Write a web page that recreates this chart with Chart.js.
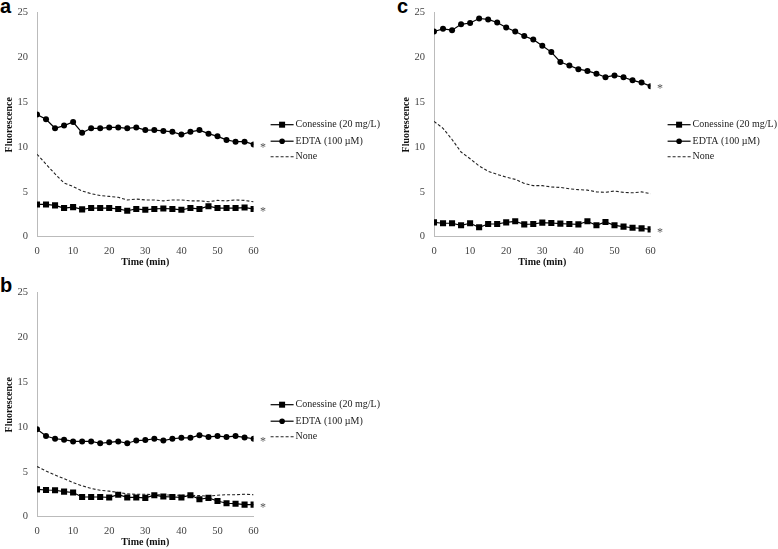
<!DOCTYPE html>
<html><head><meta charset="utf-8">
<script src="https://cdn.jsdelivr.net/npm/chart.js@4.4.0/dist/chart.umd.min.js"></script>
<style>
html,body{margin:0;padding:0;background:#fff;width:778px;height:549px;overflow:hidden;position:relative;}
canvas{position:absolute;}
.lbl{position:absolute;font:bold 20px "Liberation Sans",Arial,sans-serif;color:#000;line-height:20px;}
.pre{position:absolute;left:-1000px;top:0;font-family:"Liberation Serif";}
</style></head><body>
<div class="pre">Fluorescence <b>Time</b></div>
<div class="lbl" style="left:0px;top:-3.6px">a</div>
<div class="lbl" style="left:0px;top:275px">b</div>
<div class="lbl" style="left:397px;top:-4.5px">c</div>
<canvas id="ca" width="390" height="269" style="left:0;top:0"></canvas>
<canvas id="cb" width="390" height="269" style="left:0;top:280px"></canvas>
<canvas id="cc" width="381" height="269" style="left:397px;top:0"></canvas>
<script>
// Time points (min)
const times = [0,2.5,5,7.5,10,12.5,15,17.5,20,22.5,25,27.5,30,32.5,35,37.5,40,42.5,45,47.5,50,52.5,55,57.5,60];
const xTicks = [0,10,20,30,40,50,60];
const yTicks = [0,5,10,15,20,25];
const seriesNames = ['Conessine (20 mg/L)','EDTA (100 \u00b5M)','None'];

// Panel a
const conA  = [3.6,3.6,3.5,3.2,3.3,3.05,3.2,3.2,3.2,3.1,2.9,3.1,3.0,3.1,3.15,3.1,3.0,3.2,3.1,3.4,3.2,3.2,3.2,3.25,3.1];
const edtaA = [13.64,13.1,12.1,12.4,12.8,11.6,12.1,12.1,12.2,12.2,12.1,12.2,11.9,11.9,11.8,11.7,11.4,11.7,11.9,11.5,11.2,10.8,10.6,10.6,10.3];
const noneA = [9.2,8.1,7.0,6.0,5.6,5.1,4.8,4.6,4.5,4.4,4.1,4.2,4.1,4.1,4.0,4.1,4.1,4.0,4.0,3.9,4.05,4.0,4.1,4.05,3.9];

// Panel b
const conB  = [3.05,2.98,2.95,2.8,2.7,2.2,2.2,2.2,2.15,2.45,2.15,2.15,2.1,2.4,2.25,2.2,2.15,2.4,1.95,2.1,1.75,1.5,1.45,1.35,1.35];
const edtaB = [9.75,9.0,8.7,8.6,8.4,8.4,8.4,8.2,8.3,8.4,8.2,8.5,8.55,8.7,8.5,8.7,8.8,8.8,9.1,8.9,9.0,8.9,9.0,8.85,8.7];
const noneB = [5.6,5.1,4.65,4.25,3.8,3.45,3.15,2.95,2.85,2.7,2.55,2.5,2.5,2.45,2.45,2.4,2.4,2.4,2.35,2.3,2.4,2.45,2.45,2.5,2.45];

// Panel c
const conC  = [1.6,1.5,1.5,1.27,1.5,1.05,1.42,1.42,1.6,1.72,1.38,1.42,1.57,1.53,1.46,1.42,1.38,1.72,1.27,1.64,1.27,1.12,1.0,0.93,0.82];
const edtaC = [22.9,23.2,23.05,23.7,23.85,24.35,24.25,23.9,23.35,22.9,22.4,22.0,21.3,20.6,19.5,19.1,18.7,18.5,18.2,17.8,18.0,17.8,17.45,17.2,16.8];
const noneC = [12.87,12.1,10.85,9.45,8.7,7.9,7.3,6.95,6.65,6.4,5.95,5.7,5.7,5.55,5.5,5.35,5.25,5.2,5.0,4.95,5.1,4.95,4.9,5.0,4.8];

const serif = '"Liberation Serif", "Times New Roman", serif';

const extrasPlugin = {
  id: 'extras',
  afterDatasetsDraw(chart) {
    const ctx = chart.ctx, ca = chart.chartArea;
    ctx.save();
    ctx.fillStyle = '#555';
    ctx.font = '12px ' + serif;
    ctx.textAlign = 'left';
    ctx.textBaseline = 'middle';
    [0,1].forEach(di => {
      const meta = chart.getDatasetMeta(di);
      const p = meta.data[meta.data.length - 1];
      ctx.fillText('*', p.x + 6.5, p.y + 3);
    });
    const lx = ca.right + 17;
    const rows = [112, 128.5, 144];
    chart.data.datasets.forEach((ds, i) => {
      const y = ca.top + rows[i];
      ctx.strokeStyle = ds.borderColor;
      ctx.lineWidth = ds.borderWidth;
      ctx.setLineDash(ds.borderDash || []);
      ctx.beginPath(); ctx.moveTo(lx, y); ctx.lineTo(lx + 23, y); ctx.stroke();
      ctx.setLineDash([]);
      ctx.fillStyle = '#000';
      if (ds.pointStyle === 'rect') { ctx.fillRect(lx + 8.5, y - 3, 6, 6); }
      else if (ds.pointRadius > 0) { ctx.beginPath(); ctx.arc(lx + 11.5, y, 2.8, 0, Math.PI * 2); ctx.fill(); }
      ctx.fillStyle = '#222';
      ctx.font = '10px ' + serif;
      ctx.textBaseline = 'middle';
      ctx.fillText(ds.label, lx + 25, y);
    });
    ctx.restore();
  }
};

function pts(arr) { return times.map((t, i) => ({x: t, y: arr[i]})); }

function makeChart(id, con, edta, none, rightPad) {
  return new Chart(document.getElementById(id), {
    type: 'line',
    data: { datasets: [
      { label: seriesNames[0], data: pts(con), borderColor: '#000', backgroundColor: '#000', borderWidth: 1.2,
        pointStyle: 'rect', pointRadius: 4.3, pointBorderWidth: 0, tension: 0 },
      { label: seriesNames[1], data: pts(edta), borderColor: '#000', backgroundColor: '#000', borderWidth: 1.2,
        pointStyle: 'circle', pointRadius: 3, pointBorderWidth: 0, tension: 0 },
      { label: seriesNames[2], data: pts(none), borderColor: '#222', backgroundColor: '#222', borderWidth: 1.1,
        borderDash: [3, 2], pointRadius: 0, tension: 0 }
    ]},
    options: {
      responsive: false, animation: false,
      layout: { padding: { top: 12.7, right: rightPad, left: 0, bottom: 0 } },
      plugins: { legend: { display: false }, tooltip: { enabled: false } },
      scales: {
        x: {
          type: 'linear', min: 0, max: 60,
          afterBuildTicks: s => { s.ticks = xTicks.map(v => ({value: v})); },
          ticks: { color: '#444', font: { family: serif, size: 10.5 }, padding: 4, maxRotation: 0 },
          grid: { display: true, drawOnChartArea: false, tickLength: 4, color: 'rgba(0,0,0,0)' },
          border: { display: true, color: '#bbb', width: 1 },
          title: { display: true, text: 'Time (min)', color: '#111', font: { family: serif, size: 10, weight: 'bold' }, padding: { top: 0, bottom: 1 } },
          afterFit: s => { s.height = 32.3; }
        },
        y: {
          min: 0, max: 25,
          afterBuildTicks: s => { s.ticks = yTicks.map(v => ({value: v})); },
          ticks: { color: '#444', font: { family: serif, size: 10.5 }, padding: 5 },
          grid: { display: true, drawOnChartArea: false, tickLength: 4, color: 'rgba(0,0,0,0)' },
          border: { display: true, color: '#bbb', width: 1 },
          title: { display: true, text: 'Fluorescence', color: '#111', font: { family: serif, size: 10, weight: 'bold' }, padding: { top: 3, bottom: 0 } },
          afterFit: s => { s.width = 37; }
        }
      }
    },
    plugins: [extrasPlugin]
  });
}

function build() {
  makeChart('ca', conA, edtaA, noneA, 390 - 37 - 216.6);
  makeChart('cb', conB, edtaB, noneB, 390 - 37 - 216.6);
  makeChart('cc', conC, edtaC, noneC, 381 - 37 - 216.6);
}
Promise.all([
  document.fonts.load('10px "Liberation Serif"'),
  document.fonts.load('bold 10px "Liberation Serif"')
]).then(build, build);
</script>
</body></html>
